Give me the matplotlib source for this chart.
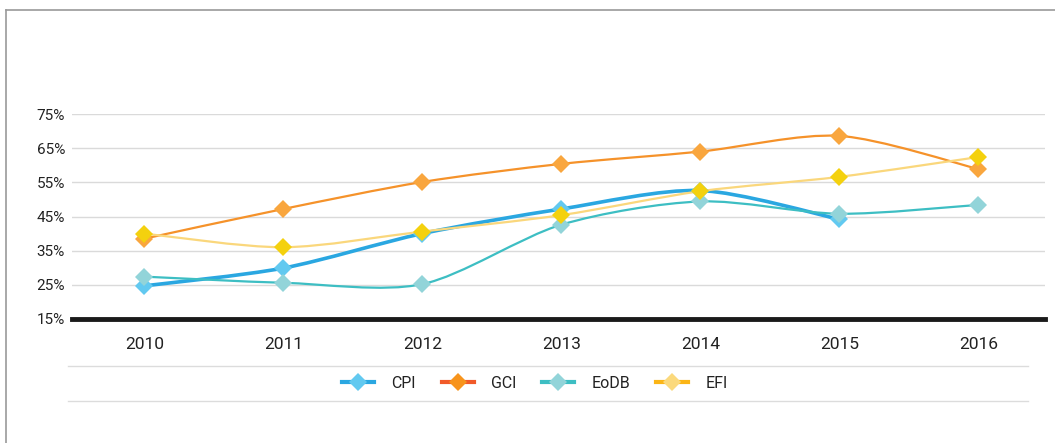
import numpy as np
import matplotlib.pyplot as plt
from matplotlib.path import Path
from matplotlib.patches import PathPatch
from matplotlib.lines import Line2D

plt.rcParams['font.family'] = ['Roboto', 'DejaVu Sans']

# data (percent)
years = [2010, 2011, 2012, 2013, 2014, 2015, 2016]
cpi = [24.7, 29.9, 40.0, 47.2, 52.6, 44.2, np.nan]
gci = [38.5, 47.2, 55.1, 60.4, 64.0, 68.6, 58.9]
eodb = [27.4, 25.6, 25.2, 42.6, 49.4, 45.8, 48.4]
efi = [40.0, 36.0, 40.6, 45.4, 52.4, 56.6, 62.4]
yticks = [15, 25, 35, 45, 55, 65, 75]

# name, values, line colour, marker colour, line width, legend line, legend marker
series = [
    ("CPI", cpi, "#2aa7e1", "#62c9f0", 2.6, "#2aa7e1", "#62c9f0"),
    ("GCI", gci, "#f5922a", "#f9a63e", 1.6, "#f15a29", "#f7941d"),
    ("EoDB", eodb, "#3dbec3", "#92d4d9", 1.6, "#3dbec3", "#92d4d9"),
    ("EFI", efi, "#fad77c", "#f4d10e", 1.6, "#fbb516", "#fbd97c"),
]


def smooth_path(xs, ys, k=7.0):
    # catmull-rom style cubic bezier through the points
    pts = [(x, y) for x, y in zip(xs, ys) if not np.isnan(y)]
    verts = [pts[0]]
    codes = [Path.MOVETO]
    n = len(pts)
    for i in range(n - 1):
        p0 = pts[i - 1] if i > 0 else pts[i]
        p1 = pts[i]
        p2 = pts[i + 1]
        p3 = pts[i + 2] if i + 2 < n else pts[i + 1]
        c1 = (p1[0] + (p2[0] - p0[0]) / k, p1[1] + (p2[1] - p0[1]) / k)
        c2 = (p2[0] - (p3[0] - p1[0]) / k, p2[1] - (p3[1] - p1[1]) / k)
        verts += [c1, c2, p2]
        codes += [Path.CURVE4] * 3
    return Path(verts, codes)


fig = plt.figure(figsize=(10.55, 4.43), dpi=100)
ax = fig.add_axes([72 / 1055, (443 - 319) / 443, (1045 - 72) / 1055, (319 - 114) / 443])

x = np.arange(len(years))
for name, vals, lc, mc, lw, legc, legm in series:
    ax.add_patch(PathPatch(smooth_path(x, vals), facecolor="none", edgecolor=lc,
                           lw=lw, zorder=3, clip_on=False))
for name, vals, lc, mc, lw, legc, legm in series:
    ax.plot(x, vals, linestyle="none", marker="D", ms=9.4, color=mc,
            markeredgewidth=0, zorder=4, clip_on=False)

ax.set_xlim(-0.52, 6.48)
ax.set_ylim(15, 75)
ax.set_yticks(yticks)
ax.set_yticklabels([f"{v}%" for v in yticks])
ax.set_xticks(x)
ax.set_xticklabels([str(y) for y in years])
ax.grid(axis="y", color="#dadada", lw=1)
ax.set_axisbelow(True)
for s in ["top", "right", "left", "bottom"]:
    ax.spines[s].set_visible(False)
ax.axhline(15, color="#1a1a1a", lw=3.5, zorder=2, clip_on=False)
ax.tick_params(axis="both", length=0, colors="#222222")
ax.tick_params(axis="y", labelsize=11, pad=5)
ax.tick_params(axis="x", labelsize=12.5, pad=13)

# legend with its own colours
handles = [Line2D([0], [0], color=s[5], lw=3, marker="D", ms=9, markerfacecolor=s[6],
                  markeredgewidth=0) for s in series]
fig.legend(handles, [s[0] for s in series], loc="center", bbox_to_anchor=(0.507, 1 - 383 / 443),
           ncol=4, frameon=False, fontsize=11.5, handlelength=2.0, columnspacing=1.6,
           handletextpad=1.1, labelcolor="#222222")

# separator lines and outer frame
fig.add_artist(Line2D([68 / 1055, 1028 / 1055], [1 - 366 / 443] * 2, color="#dcdcdc", lw=1))
fig.add_artist(Line2D([68 / 1055, 1028 / 1055], [1 - 401 / 443] * 2, color="#dcdcdc", lw=1))
fig.add_artist(Line2D([5.5 / 1055, 1], [1 - 9.5 / 443] * 2, color="#9a9a9a", lw=1.2))
fig.add_artist(Line2D([5.5 / 1055] * 2, [0, 1 - 9.5 / 443], color="#9a9a9a", lw=1.2))

fig.savefig("out.png", dpi=100)
